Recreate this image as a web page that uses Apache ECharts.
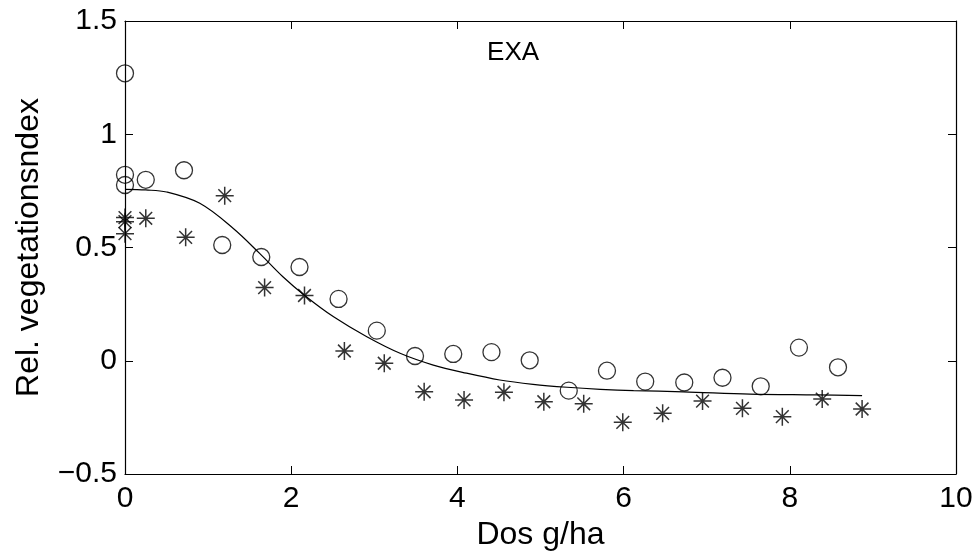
<!DOCTYPE html>
<html>
<head>
<meta charset="utf-8">
<script src="https://cdn.jsdelivr.net/npm/echarts@6/dist/echarts.min.js"></script>
<style>
html,body{margin:0;padding:0;background:#fff;}
#c{width:979px;height:555px;}
</style>
</head>
<body>
<div id="c"></div>
<script>
// Circles (series 1)
var circleX = [0, 0, 0, 0.25, 0.71, 1.17, 1.64, 2.10, 2.57, 3.03, 3.49, 3.95, 4.41, 4.87, 5.34, 5.80, 6.26, 6.73, 7.19, 7.65, 8.11, 8.58];
var circleY = [1.269, 0.821, 0.776, 0.799, 0.841, 0.511, 0.458, 0.414, 0.273, 0.133, 0.021, 0.030, 0.038, 0.002, -0.132, -0.044, -0.092, -0.096, -0.075, -0.113, 0.058, -0.029];
// Asterisks (series 2)
var starX = [0, 0, 0, 0.25, 0.73, 1.20, 1.68, 2.16, 2.64, 3.12, 3.60, 4.08, 4.56, 5.04, 5.52, 5.99, 6.47, 6.95, 7.43, 7.91, 8.39, 8.87];
var starY = [0.632, 0.614, 0.561, 0.629, 0.545, 0.729, 0.323, 0.288, 0.043, -0.011, -0.137, -0.173, -0.139, -0.181, -0.190, -0.272, -0.232, -0.178, -0.210, -0.247, -0.169, -0.213];
// Fitted curve
var curveX = [0, 0.25, 0.5, 0.9, 1.3, 1.62, 1.9, 2.17, 2.51, 2.91, 3.31, 3.71, 4.11, 4.51, 4.91, 5.32, 5.72, 6.12, 6.72, 7.52, 8.32, 8.87];
var curveY = [0.757, 0.754, 0.745, 0.695, 0.585, 0.474, 0.371, 0.286, 0.194, 0.106, 0.033, -0.019, -0.055, -0.085, -0.104, -0.117, -0.126, -0.132, -0.137, -0.147, -0.151, -0.154];
var xTicks = [0, 2, 4, 6, 8, 10];
var yTicks = [-0.5, 0, 0.5, 1, 1.5];
var labelText = 'EXA';
var labelPos = [4.67, 1.36];

function zip(a, b) { return a.map(function (v, i) { return [v, b[i]]; }); }

var FONT = '"Liberation Sans", Arial, Helvetica, sans-serif';
var chart = echarts.init(document.getElementById('c'), null, {renderer: 'canvas'});
var asterisk = 'path://M0,10 L20,10 M10,0 L10,20 M2.93,2.93 L17.07,17.07 M17.07,2.93 L2.93,17.07';

function fmt(v) {
  var s = String(v);
  return s.replace('-', '\u2212');
}

function mkAxis(extra) {
  return Object.assign({
    axisLine: {show: true, onZero: false, lineStyle: {color: '#000', width: 1.2}},
    axisTick: {show: true, inside: true, length: 8, lineStyle: {color: '#000', width: 1}},
    splitLine: {show: false}
  }, extra);
}

var option = {
  backgroundColor: '#fff',
  animation: false,
  grid: {left: 125, right: 23, top: 21, bottom: 81, containLabel: false, outerBoundsMode: 'none'},
  xAxis: [
    mkAxis({
      type: 'value', position: 'bottom', min: xTicks[0], max: xTicks[xTicks.length - 1], interval: 2,
      name: 'Dos g/ha', nameLocation: 'middle', nameGap: 40,
      nameTextStyle: {fontFamily: FONT, fontSize: 32, color: '#000'},
      axisLabel: {show: true, fontFamily: FONT, fontSize: 30, color: '#000', margin: 10, formatter: fmt}
    }),
    mkAxis({
      type: 'value', position: 'top', min: xTicks[0], max: xTicks[xTicks.length - 1], interval: 2,
      axisLabel: {show: false}
    })
  ],
  yAxis: [
    mkAxis({
      type: 'value', position: 'left', min: yTicks[0], max: yTicks[yTicks.length - 1], interval: 0.5,
      name: 'Rel. vegetationsndex', nameLocation: 'middle', nameGap: 80, nameRotate: 90,
      nameTextStyle: {fontFamily: FONT, fontSize: 32, color: '#000'},
      axisLabel: {show: true, fontFamily: FONT, fontSize: 30, color: '#000', margin: 8, formatter: fmt}
    }),
    mkAxis({
      type: 'value', position: 'right', min: yTicks[0], max: yTicks[yTicks.length - 1], interval: 0.5,
      axisLabel: {show: false}
    })
  ],
  series: [
    {
      type: 'line', data: zip(curveX, curveY), showSymbol: false, symbol: 'none',
      smooth: 0.35,
      lineStyle: {color: '#000', width: 1.2}, silent: true, z: 2
    },
    {
      type: 'scatter', data: zip(circleX, circleY), symbol: 'circle', symbolSize: 17,
      itemStyle: {color: 'rgba(0,0,0,0)', borderColor: '#000', borderWidth: 1.3}, z: 3
    },
    {
      type: 'scatter', data: zip(starX, starY), symbol: asterisk, symbolSize: 18,
      itemStyle: {color: 'rgba(0,0,0,0)', borderColor: '#000', borderWidth: 1.5}, z: 3
    }
  ]
};
chart.setOption(option);
var p = chart.convertToPixel({gridIndex: 0}, labelPos);
chart.setOption({
  graphic: [{
    type: 'text', x: p[0], y: p[1],
    style: {text: labelText, fontFamily: FONT, fontSize: 26, fill: '#000', textAlign: 'center', textVerticalAlign: 'middle'}
  }]
});
</script>
</body>
</html>
